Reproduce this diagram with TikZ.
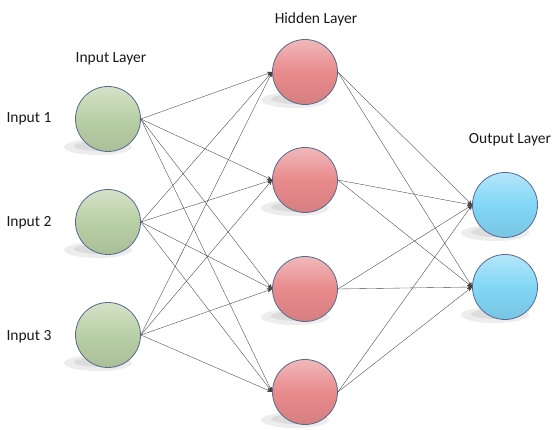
\documentclass[tikz,border=0pt]{standalone}
\usepackage{fontspec}
\setmainfont{Carlito}
\usetikzlibrary{arrows.meta}
\definecolor{ingreen}{RGB}{185,207,165}
\definecolor{hidred}{RGB}{232,138,140}
\definecolor{outblue}{RGB}{130,214,246}
\definecolor{rim}{RGB}{85,105,145}
\tikzset{
  neuron/.style={circle, draw=rim, line width=0.8pt, minimum size=65pt, inner sep=0pt},
  inneuron/.style={neuron, top color=ingreen!60!white, bottom color=ingreen!92!black, middle color=ingreen},
  hidneuron/.style={neuron, top color=hidred!60!white, bottom color=hidred!92!black, middle color=hidred},
  outneuron/.style={neuron, top color=outblue!60!white, bottom color=outblue!92!black, middle color=outblue},
  link/.style={draw=black!75, line width=0.35pt, -{Stealth[length=5pt,width=4pt]}},
  lbl/.style={font=\fontsize{15.5}{18}\selectfont, text=black!90},
  shade/.style={fill=black, opacity=0.07}
}
\begin{document}
\begin{tikzpicture}[x=1pt,y=-1pt]
\useasboundingbox (0,0) rectangle (554,430);
% shadows
\foreach \x/\y in {108/119,108/222,108/335,305/72,305/180,305/289,305/392,505/205,505/287}{
  \fill[shade] (\x-10,\y+28) ellipse (34 and 8);
  \fill[shade] (\x-8,\y+27) ellipse (26 and 5);
}
% neurons
\node[inneuron] (i1) at (108,119) {};
\node[inneuron] (i2) at (108,222) {};
\node[inneuron] (i3) at (108,335) {};
\node[hidneuron] (h1) at (305,72) {};
\node[hidneuron] (h2) at (305,180) {};
\node[hidneuron] (h3) at (305,289) {};
\node[hidneuron] (h4) at (305,392) {};
\node[outneuron] (o1) at (505,205) {};
\node[outneuron] (o2) at (505,287) {};
% connections
\foreach \i in {i1,i2,i3}{
  \foreach \h in {h1,h2,h3,h4}{
    \draw[link] (\i.east) -- (\h.west);
  }
}
\foreach \h in {h1,h2,h3,h4}{
  \foreach \o in {o1,o2}{
    \draw[link] (\h.east) -- (\o.west);
  }
}
% labels
\node[lbl] (tin) at (111,59) {Input Layer};
\node[lbl] (thid) at (316,19) {Hidden Layer};
\node[lbl] (tout) at (510,140) {Output Layer};
\node[lbl] (n1) at (29,119) {Input 1};
\node[lbl] (n2) at (29,223) {Input 2};
\node[lbl] (n3) at (29,337) {Input 3};
\end{tikzpicture}
\end{document}
